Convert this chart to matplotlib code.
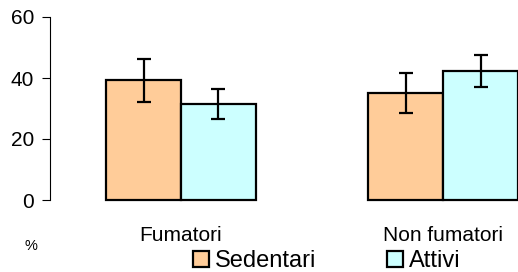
import matplotlib
matplotlib.use("Agg")
import matplotlib.pyplot as plt
from matplotlib.patches import Patch
import numpy as np

plt.rcParams['font.family'] = ['Liberation Sans', 'DejaVu Sans']

groups = ['Fumatori', 'Non fumatori']
series = ['Sedentari', 'Attivi']
sedentari = [39.2, 35.0]
attivi = [31.5, 42.3]
err_sed = [7.0, 6.6]
err_att = [5.0, 5.2]
colors = ['#FFCC99', '#CCFFFF']

fig = plt.figure(figsize=(5.18, 2.72), dpi=100)
ax = fig.add_axes([50/518, 1 - 200/272, 1 - 50/518, (200 - 17)/272])

x = np.arange(len(groups))
w = 0.286
ekw = dict(elinewidth=1.6, capthick=1.6, ecolor='black')
for vals, errs, col, off in [(sedentari, err_sed, colors[0], -w/2),
                             (attivi, err_att, colors[1], w/2)]:
    ax.bar(x + off, vals, w, color=col, edgecolor='black', linewidth=1.6,
           yerr=errs, capsize=4.8, error_kw=ekw, clip_on=False, zorder=2)

ax.set_xlim(-0.5, 1 + w)
ax.set_ylim(0, 60)
ax.set_yticks([0, 20, 40, 60])
ax.set_xticks(x)
ax.set_xticklabels(groups)
ax.tick_params(axis='y', length=5.5, width=0.8, pad=6, labelsize=15)
ax.tick_params(axis='x', length=0, pad=18.5, labelsize=15)
for s in ['top', 'right', 'bottom']:
    ax.spines[s].set_visible(False)
ax.spines['left'].set_linewidth(0.8)

fig.text(31/518, 1 - 246/272, '%', fontsize=10.5, ha='center', va='center')

handles = [Patch(facecolor=c, edgecolor='black', linewidth=1.6) for c in colors]
fig.legend(handles, series, loc='center left', bbox_to_anchor=(193/518, 1 - 261/272),
           ncol=2, frameon=False, fontsize=17, handlelength=0.68, handleheight=0.68,
           handletextpad=0.25, columnspacing=3.0, borderpad=0, borderaxespad=0)

fig.savefig('out.png', dpi=100)
